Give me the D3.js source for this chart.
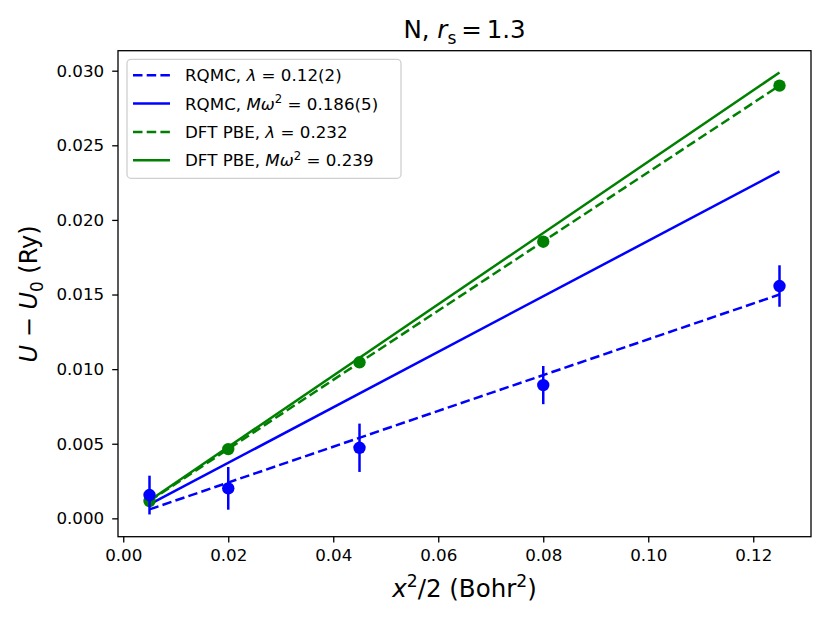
<!DOCTYPE html>
<html>
<head>
<meta charset="utf-8">
<script src="https://cdn.jsdelivr.net/npm/d3@7"></script>
<style>
	body { margin: 0; background: #fff; }
	svg { font-family: "DejaVu Sans", sans-serif; }
</style>
</head>
<body>
<svg id="chart" width="830" height="623"></svg>
<script>
// data
const xVals = [0.005, 0.02, 0.045, 0.08, 0.125];
const rqmcU = [0.00156, 0.00201, 0.00473, 0.00893, 0.01557];
const rqmcErr = [0.0013, 0.00143, 0.00162, 0.00128, 0.00139];
const dftU = [0.00116, 0.00464, 0.01046, 0.01854, 0.0290];

// fitted lines, values at the ends of the fit range
const fitX = [0.005, 0.125];
const rqmcLambdaFit = [0.0006, 0.0150];
const rqmcMwFit = [0.00093, 0.02325];
const dftLambdaFit = [0.00116, 0.0290];
const dftMwFit = [0.0012, 0.02988];

const xTicks = [0, 0.02, 0.04, 0.06, 0.08, 0.10, 0.12];
const yTicks = [0, 0.005, 0.010, 0.015, 0.020, 0.025, 0.030];

const BLUE = '#0000ff', GREEN = '#008000';

const fits = [
	{ vals: rqmcLambdaFit, color: BLUE, dash: '9.5,4.2', label: [['RQMC, '], ['λ', 'i'], [' = 0.12(2)']] },
	{ vals: rqmcMwFit, color: BLUE, dash: null, label: [['RQMC, '], ['Mω', 'i'], ['2', 'sup'], [' = 0.186(5)']] },
	{ vals: dftLambdaFit, color: GREEN, dash: '9.5,4.2', label: [['DFT PBE, '], ['λ', 'i'], [' = 0.232']] },
	{ vals: dftMwFit, color: GREEN, dash: null, label: [['DFT PBE, '], ['Mω', 'i'], ['2', 'sup'], [' = 0.239']] }
];

const margin = { top: 50.7, right: 19, bottom: 86.3, left: 118 };
const width = 830, height = 623;

const svg = d3.select('#chart');

const x = d3.scaleLinear()
	.domain([-0.001, 0.131])
	.range([margin.left, width - margin.right]);

const y = d3.scaleLinear()
	.domain([-0.00123, 0.03134])
	.range([height - margin.bottom, margin.top]);

// writes text made of plain / italic / sub / sup pieces
function richText(sel, parts, size) {
	let shift = 0;
	parts.forEach(([t, kind]) => {
		let ts = sel.append('tspan').text(t);
		let target = 0;
		if (kind === 'sub') target = 0.25 * size;
		if (kind === 'sup') target = -0.4 * size;
		if (kind === 'sub' || kind === 'sup') ts.attr('font-size', size * 0.7);
		if (kind === 'i') ts.attr('font-style', 'italic');
		if (target !== shift) { ts.attr('dy', target - shift); shift = target; }
	});
}

// fit lines
const line = d3.line()
	.x(d => x(d[0]))
	.y(d => y(d[1]));

svg.append('g')
	.selectAll('path')
	.data(fits)
	.join('path')
	.attr('d', d => line(fitX.map((v, i) => [v, d.vals[i]])))
	.attr('fill', 'none')
	.attr('stroke', d => d.color)
	.attr('stroke-width', 2.5)
	.attr('stroke-dasharray', d => d.dash);

// DFT points
svg.append('g')
	.selectAll('circle')
	.data(xVals.map((v, i) => [v, dftU[i]]))
	.join('circle')
	.attr('cx', d => x(d[0]))
	.attr('cy', d => y(d[1]))
	.attr('r', 6.2)
	.attr('fill', GREEN);

// RQMC points with error bars
const rq = svg.append('g')
	.selectAll('g')
	.data(xVals.map((v, i) => ({ x: v, y: rqmcU[i], e: rqmcErr[i] })))
	.join('g');

rq.append('line')
	.attr('x1', d => x(d.x)).attr('x2', d => x(d.x))
	.attr('y1', d => y(d.y - d.e)).attr('y2', d => y(d.y + d.e))
	.attr('stroke', BLUE)
	.attr('stroke-width', 2.5);

rq.append('circle')
	.attr('cx', d => x(d.x))
	.attr('cy', d => y(d.y))
	.attr('r', 6.2)
	.attr('fill', BLUE);

// axes
const xAxis = svg.append('g')
	.attr('transform', `translate(0,${height - margin.bottom})`)
	.call(d3.axisBottom(x).tickValues(xTicks).tickFormat(d3.format('.2f')).tickSizeOuter(0).tickSize(5.8).tickPadding(7));

const yAxis = svg.append('g')
	.attr('transform', `translate(${margin.left},0)`)
	.call(d3.axisLeft(y).tickValues(yTicks).tickFormat(d3.format('.3f')).tickSizeOuter(0).tickSize(5.8).tickPadding(8));

[xAxis, yAxis].forEach(a => {
	a.select('.domain').remove();
	a.selectAll('line').attr('stroke', '#000').attr('stroke-width', 1.3);
	a.selectAll('text')
		.attr('font-family', '"DejaVu Sans", sans-serif')
		.attr('font-size', 16.7)
		.attr('fill', '#000');
});

// frame
svg.append('rect')
	.attr('x', margin.left)
	.attr('y', margin.top)
	.attr('width', width - margin.left - margin.right)
	.attr('height', height - margin.top - margin.bottom)
	.attr('fill', 'none')
	.attr('stroke', '#000')
	.attr('stroke-width', 1.3);

// legend
const lg = svg.append('g').attr('transform', 'translate(127,59.3)');

lg.append('rect')
	.attr('width', 274)
	.attr('height', 119)
	.attr('rx', 4)
	.attr('fill', 'rgba(255,255,255,0.8)')
	.attr('stroke', '#d0d0d0')
	.attr('stroke-width', 1.3);

const rows = lg.selectAll('g.row')
	.data(fits)
	.join('g')
	.attr('class', 'row')
	.attr('transform', (d, i) => `translate(0,${16 + i * 28.3})`);

rows.append('line')
	.attr('x1', 6).attr('x2', 43)
	.attr('stroke', d => d.color)
	.attr('stroke-width', 2.5)
	.attr('stroke-dasharray', d => d.dash);

rows.append('text')
	.attr('x', 58)
	.attr('y', 6)
	.attr('font-size', 16.7)
	.each(function(d) { richText(d3.select(this), d.label, 16.7); });

// title and axis labels
svg.append('text')
	.attr('x', 464.5)
	.attr('y', 38)
	.attr('text-anchor', 'middle')
	.attr('font-size', 24.5)
	.call(t => richText(t, [['N, '], ['r', 'i'], ['s', 'sub'], ['\u2009=\u20091.3']], 24.5));

svg.append('text')
	.attr('x', 464.5)
	.attr('y', 597)
	.attr('text-anchor', 'middle')
	.attr('font-size', 24.5)
	.call(t => richText(t, [['x', 'i'], ['2', 'sup'], ['/2 (Bohr'], ['2', 'sup'], [')']], 24.5));

svg.append('text')
	.attr('transform', 'translate(37,294) rotate(-90)')
	.attr('text-anchor', 'middle')
	.attr('font-size', 24)
	.call(t => richText(t, [['U', 'i'], [' − '], ['U', 'i'], ['0', 'sub'], [' (Ry)']], 24));
</script>
</body>
</html>
